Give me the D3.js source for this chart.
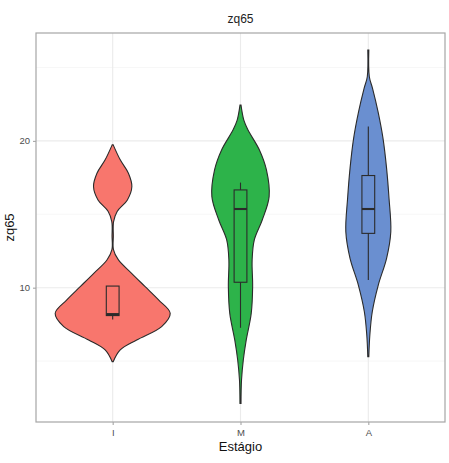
<!DOCTYPE html>
<html>
<head>
<meta charset="utf-8">
<script src="https://cdn.jsdelivr.net/npm/d3@7"></script>
<style>
  body { margin: 0; background: #fff; }
  svg { display: block; font-family: "Liberation Sans", Arial, sans-serif; }
</style>
</head>
<body>
<svg id="chart" width="449" height="463"></svg>
<script>
// Stages along the x axis and their fills
const stages = ["I", "M", "A"];
const fills = ["#F8766D", "#2DB34A", "#6A8FD0"];

// Violin outlines: [zq65 value, half-width as a fraction of the category band]
const violinI = [[19.73,0.004],[18.71,0.059],[17.80,0.123],[16.89,0.150],[15.98,0.115],[15.19,0.035],[14.50,0.007],[13.50,0.005],[12.60,0.006],[11.89,0.045],[10.98,0.148],[10.07,0.254],[9.17,0.359],[8.26,0.450],[7.35,0.383],[6.44,0.188],[5.76,0.059],[4.96,0.004]];
const violinM = [[22.44,0.004],[21.42,0.026],[20.74,0.059],[19.38,0.148],[18.02,0.203],[16.20,0.224],[14.61,0.170],[13.25,0.108],[11.89,0.091],[10.07,0.095],[8.25,0.084],[6.44,0.045],[5.07,0.022],[3.71,0.008],[2.12,0.004]];
const violinA = [[26.19,0.004],[24.37,0.008],[23.58,0.033],[21.99,0.076],[20.17,0.115],[18.13,0.143],[16.09,0.162],[13.81,0.176],[12.00,0.143],[10.18,0.078],[8.36,0.031],[6.78,0.012],[5.30,0.004]];
const violins = [violinI, violinM, violinA];

// Box summaries: lower whisker, Q1, median, Q3, upper whisker
const whiskerLow = [7.84, 7.27, 10.52];
const q1 = [8.10, 10.37, 13.70];
const median = [8.20, 15.36, 15.36];
const q3 = [10.11, 16.66, 17.64];
const whiskerHigh = [10.11, 17.16, 20.98];

// Axis ticks
const yMajor = [10, 20];
const yMinor = [5, 15, 25];

const svg = d3.select("#chart");
const margin = {left: 36, right: 4, top: 33, bottom: 41};
const W = 449, H = 463;
const x0 = margin.left, x1 = W - margin.right;
const y0 = margin.top, y1 = H - margin.bottom;

const x = d3.scalePoint().domain(stages).range([x0, x1]).padding(0.6);
const band = x.step();
const y = d3.scaleLinear().domain([0.85, 27.35]).range([y1, y0]);
const wScale = d3.scaleLinear().domain([0, 1]).range([0, band]);

// Grid
const grid = svg.append("g");
yMinor.forEach(v => grid.append("line").attr("x1", x0).attr("x2", x1)
  .attr("y1", y(v)).attr("y2", y(v)).attr("stroke", "#F2F2F2").attr("stroke-width", 0.6));
yMajor.forEach(v => grid.append("line").attr("x1", x0).attr("x2", x1)
  .attr("y1", y(v)).attr("y2", y(v)).attr("stroke", "#EBEBEB").attr("stroke-width", 1.1));
stages.forEach(s => grid.append("line").attr("x1", x(s)).attr("x2", x(s))
  .attr("y1", y0).attr("y2", y1).attr("stroke", "#EBEBEB").attr("stroke-width", 1.1));

// Violins: mirrored smooth outline around each stage position
const line = d3.line().curve(d3.curveCatmullRom);
violins.forEach((prof, i) => {
  const cx = x(stages[i]);
  const pts = prof.slice().sort((a, b) => a[0] - b[0]);
  const right = pts.map(d => [cx + wScale(d[1]), y(d[0])]);
  const left = pts.slice().reverse().map(d => [cx - wScale(d[1]), y(d[0])]);
  svg.append("path")
    .attr("d", line(right) + "L" + line(left).slice(1) + "Z")
    .attr("fill", fills[i])
    .attr("stroke", "#2b2b2b")
    .attr("stroke-width", 1.1);
});

// Box plots
const boxW = 0.1 * band;
stages.forEach((s, i) => {
  const cx = x(s);
  const g = svg.append("g").attr("stroke", "#2b2b2b").attr("fill", "none");
  g.append("line").attr("x1", cx).attr("x2", cx)
    .attr("y1", y(q3[i])).attr("y2", y(whiskerHigh[i])).attr("stroke-width", 1.1);
  g.append("line").attr("x1", cx).attr("x2", cx)
    .attr("y1", y(q1[i])).attr("y2", y(whiskerLow[i])).attr("stroke-width", 1.1);
  g.append("rect").attr("x", cx - boxW / 2).attr("width", boxW)
    .attr("y", y(q3[i])).attr("height", y(q1[i]) - y(q3[i])).attr("stroke-width", 1.1);
  g.append("line").attr("x1", cx - boxW / 2).attr("x2", cx + boxW / 2)
    .attr("y1", y(median[i])).attr("y2", y(median[i])).attr("stroke-width", 2.1);
});

// Panel border
svg.append("rect").attr("x", x0).attr("y", y0).attr("width", x1 - x0).attr("height", y1 - y0)
  .attr("fill", "none").attr("stroke", "#A6A6A6").attr("stroke-width", 1.2);

// Axes
const yAxis = d3.axisLeft(y).tickValues(yMajor).tickSize(3).tickPadding(3);
const gy = svg.append("g").attr("transform", `translate(${x0},0)`).call(yAxis);
const xAxis = d3.axisBottom(x).tickSize(3).tickPadding(4);
const gx = svg.append("g").attr("transform", `translate(0,${y1})`).call(xAxis);
[gy, gx].forEach(g => {
  g.select(".domain").remove();
  g.selectAll(".tick line").attr("stroke", "#A6A6A6").attr("stroke-width", 1.1);
  g.selectAll(".tick text").attr("fill", "#4D4D4D").attr("font-size", 9.5)
    .attr("font-family", "'Liberation Sans', Arial, sans-serif");
});

// Titles
svg.append("text").attr("x", (x0 + x1) / 2).attr("y", 23).attr("text-anchor", "middle")
  .attr("font-size", 12).attr("fill", "#222").text("zq65");
svg.append("text").attr("x", (x0 + x1) / 2).attr("y", 451).attr("text-anchor", "middle")
  .attr("font-size", 13).attr("fill", "#111").text("Estágio");
svg.append("text").attr("transform", `translate(14,${(y0 + y1) / 2}) rotate(-90)`)
  .attr("text-anchor", "middle").attr("font-size", 13).attr("fill", "#111").text("zq65");
</script>
</body>
</html>
